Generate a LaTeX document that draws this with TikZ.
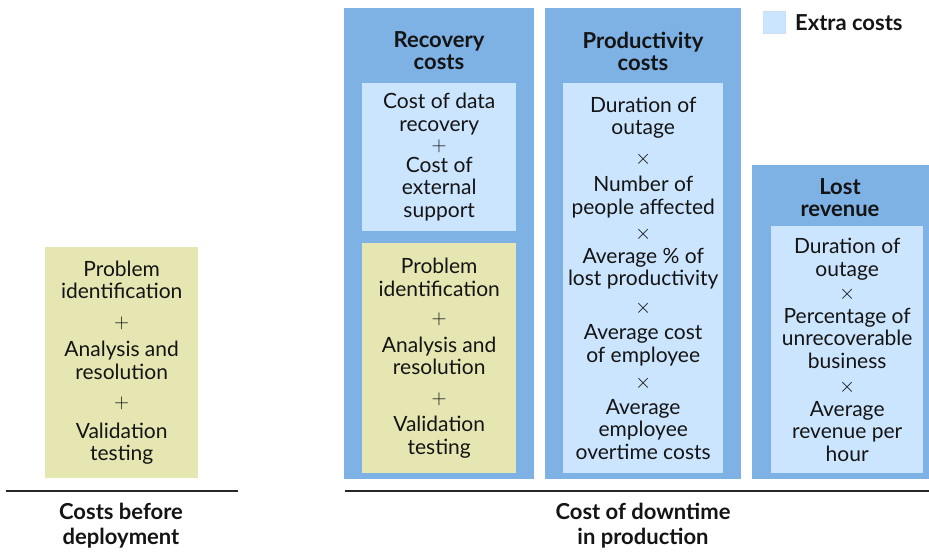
\documentclass[tikz,border=0pt]{standalone}
\usepackage{fontspec}
\setmainfont{Lato}
\usetikzlibrary{positioning}
\definecolor{outerblue}{RGB}{126,177,228}
\definecolor{innerblue}{RGB}{204,229,255}
\definecolor{precost}{RGB}{230,230,179}
\definecolor{inktext}{RGB}{20,20,20}
\begin{document}
\begin{tikzpicture}[x=1pt, y=-1pt,
        column/.style={fill=outerblue, anchor=north west, inner sep=0pt},
        extra/.style={fill=innerblue, anchor=north west, inner sep=0pt, align=center, text=inktext, font=\fontsize{21}{22.5}\selectfont},
        before/.style={extra, fill=precost},
        heading/.style={align=center, text=inktext, font=\bfseries\fontsize{22}{22}\selectfont},
        caption/.style={align=center, text=inktext, font=\bfseries\fontsize{22}{25}\selectfont},
        rule/.style={line width=2pt, black!85}
    ]
        \useasboundingbox (0,0) rectangle (929,552);

        % Costs before deployment
        \node (pre) [before, minimum width=153pt, minimum height=231pt] at (45,247)
            {Problem\\identification\\[7pt] $+$\\[6pt] Analysis and\\resolution\\[7pt] $+$\\[7pt] Validation\\testing};

        % Recovery costs
        \node (recov) [column, minimum width=190pt, minimum height=471pt] at (344,8) {};
        \node (recovIn) [extra, minimum width=154pt, minimum height=148pt] at (362,83)
            {Cost of data\\recovery\\[-2pt] $+$\\[-2pt] Cost of\\external\\support};
        \node (recovPre) [before, minimum width=154pt, minimum height=230pt] at (362,243)
            {Problem\\identification\\[6pt] $+$\\[5pt] Analysis and\\resolution\\[7pt] $+$\\[5pt] Validation\\testing};
        \node (recovHead) [heading] at (439,51) {Recovery\\costs};

        % Productivity costs
        \node (prod) [column, minimum width=196pt, minimum height=471pt] at (545,8) {};
        \node (prodIn) [extra, minimum width=160pt, minimum height=390pt] at (563,83)
            {Duration of\\outage\\[7pt] $\times$\\[5pt] Number of\\people affected\\[3pt] $\times$\\[1pt] Average \% of\\lost productivity\\[5pt] $\times$\\[4pt] Average cost\\of employee\\[4pt] $\times$\\[3pt] Average\\employee\\overtime costs};
        \node (prodHead) [heading] at (643,51) {Productivity\\costs};

        % Lost revenue
        \node (lost) [column, minimum width=177pt, minimum height=314pt] at (752,165) {};
        \node (lostIn) [extra, minimum width=152pt, minimum height=247pt] at (771,226)
            {Duration of\\outage\\[1pt] $\times$\\[1pt] Percentage of\\unrecoverable\\business\\[2pt] $\times$\\[1pt] Average\\revenue per\\hour};
        \node (lostHead) [heading] at (840,198) {Lost\\revenue};

        % Legend
        \node (key) [fill=innerblue, draw=outerblue!40, line width=0.6pt, anchor=north west, minimum size=22pt, inner sep=0pt] at (763,11) {};
        \node (keyText) [heading, anchor=west, right=6pt of key] {Extra costs};

        % Rules and captions
        \coordinate (preL) at (6,491);
        \coordinate (preR) at (238,491);
        \coordinate (downL) at (345,491);
        \coordinate (downR) at (929,491);
        \draw [rule] (preL) -- (preR);
        \draw [rule] (downL) -- (downR);
        \node (preCap) [caption] at (121,526) {Costs before\\deployment};
        \node (downCap) [caption] at (643,526) {Cost of downtime\\in production};
    \end{tikzpicture}
\end{document}
